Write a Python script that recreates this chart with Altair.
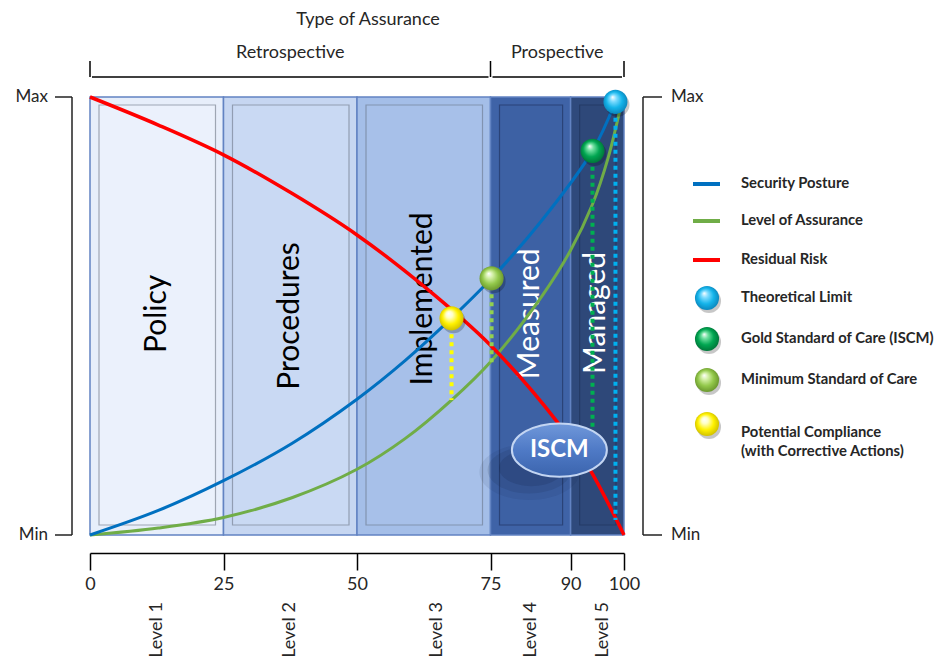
import altair as alt
import pandas as pd

# ---------------- data ----------------
band_start = [0, 25, 50, 75, 90]
band_end = [25, 50, 75, 90, 100]
band_names = ["Policy", "Procedures", "Implemented", "Measured", "Managed"]
band_label_x = [12.5, 37.5, 62.4, 82.4, 94.8]
band_label_y = [50.5, 50.0, 53.9, 50.5, 50.7]

level_names = ["Level 1", "Level 2", "Level 3", "Level 4", "Level 5"]
level_x = [12.5, 37.5, 65.0, 82.6, 96.0]

x_ticks = [0, 25, 50, 75, 90, 100]

posture_x = [0, 12.8, 25, 37.8, 50, 59, 67.7, 75.2, 84.6, 94.1, 98.3]
posture_y = [0, 5.6, 12.4, 20.9, 31.0, 39.8, 49.5, 58.6, 71.8, 87.7, 98.7]

assurance_x = [0, 12.8, 25, 37.8, 50, 59, 67.7, 75.2, 84.6, 90, 94.1, 97, 99.5]
assurance_y = [0, 1.6, 4.0, 8.5, 15.0, 22.0, 30.8, 39.8, 54.5, 65.0, 75.5, 86.0, 98.5]

risk_x = [0, 12.8, 25, 37.8, 50, 62.5, 75, 87.7, 93.3, 100]
risk_y = [100, 93.6, 86.8, 78.0, 68.5, 56.8, 43.3, 25.5, 15.6, 0]

marker_names = ["Potential Compliance", "Minimum Standard of Care",
                "Gold Standard of Care (ISCM)", "Theoretical Limit"]
marker_x = [67.7, 75.2, 94.1, 98.4]
marker_y = [49.5, 58.6, 87.7, 98.9]
marker_drop = [30.8, 39.3, 14.8, 3.4]

iscm_label = ["ISCM"]
iscm_x = [87.9]
iscm_y = [19.4]

assurance_title = "Type of Assurance"
assurance_types = ["Retrospective", "Prospective"]
assurance_start = [0, 75]
assurance_end = [75, 100]

scale_labels = ["Max", "Min"]
scale_values = [100, 0]

legend_line_labels = ["Security Posture", "Level of Assurance", "Residual Risk"]
legend_ball_labels = ["Theoretical Limit", "Gold Standard of Care (ISCM)",
                      "Minimum Standard of Care", "Potential Compliance"]

# ---------------- styles ----------------
FONT = "Lato"
TXT = "#262626"
W, H = 534, 438
band_fill = ["#e7eefa", "#c6d6f1", "#a4bee8", "#3f63a7", "#2f4a7c"]
band_inner_fill = ["#ebf1fc", "#c9d9f3", "#a7c0e9", "#3d61a4", "#2e4879"]
band_inner_stroke = ["#9ea6b3", "#919db2", "#8193b0", "#2a4378", "#243b66"]
band_text = ["#000000", "#000000", "#000000", "#ffffff", "#ffffff"]
line_colors = {"Security Posture": "#0070c0", "Level of Assurance": "#70ad47",
               "Residual Risk": "#ff0000"}
ball_base = {"Theoretical Limit": ("#7fdcff", "#14b4ea", "#0a7fb5"),
             "Gold Standard of Care (ISCM)": ("#6fe0a0", "#00a651", "#006e35"),
             "Minimum Standard of Care": ("#d4f0a8", "#92c84a", "#648f2a"),
             "Potential Compliance": ("#ffffc8", "#fff200", "#c9b800")}
drop_colors = {"Potential Compliance": "#ffff00", "Minimum Standard of Care": "#92d050",
               "Gold Standard of Care (ISCM)": "#00b050", "Theoretical Limit": "#00b0f0"}

xscale = alt.Scale(domain=[0, 100], nice=False, zero=False)
yscale = alt.Scale(domain=[0, 100], nice=False, zero=False)
xaxis = alt.Axis(values=x_ticks, offset=18, tickSize=17, tickWidth=1.5, domainWidth=1.5,
                 domainColor="#000", tickColor="#000", labelColor=TXT, labelFontSize=18,
                 labelFont=FONT, labelPadding=5, grid=False, title=None, labelFlush=False,
                 labelOverlap=False, format="d")


def X(f):
    return alt.X(f, type="quantitative", scale=xscale, axis=xaxis)


def Y(f):
    return alt.Y(f, type="quantitative", scale=yscale, axis=None)


def ball_fill(name):
    hi, mid, lo = ball_base[name]
    return {"gradient": "radial", "x1": 0.38, "y1": 0.3, "r1": 0.0,
            "x2": 0.5, "y2": 0.5, "r2": 0.55,
            "stops": [{"offset": 0.0, "color": "#ffffff"},
                      {"offset": 0.25, "color": hi},
                      {"offset": 0.6, "color": mid},
                      {"offset": 1.0, "color": lo}]}


bands = pd.DataFrame({"name": band_names, "x0": band_start, "x1": band_end,
                      "fill": band_fill, "ifill": band_inner_fill,
                      "istroke": band_inner_stroke, "tc": band_text,
                      "lx": band_label_x, "ly": band_label_y, "y0": 0, "y1": 100})

layers = []
layers.append(alt.Chart(bands).mark_rect(stroke="#6283c2", strokeWidth=1.5).encode(
    x=X("x0"), x2="x1", y=Y("y1"), y2="y0", fill=alt.Fill("fill:N", scale=None)))
layers.append(alt.Chart(bands).mark_rect(strokeWidth=1.2, xOffset=9, x2Offset=-8,
                                          yOffset=8, y2Offset=-10).encode(
    x=X("x0"), x2="x1", y=Y("y1"), y2="y0",
    fill=alt.Fill("ifill:N", scale=None), stroke=alt.Stroke("istroke:N", scale=None)))

# ISCM shadow (soft, under everything else)
iscm = pd.DataFrame({"label": iscm_label, "x": iscm_x, "y": iscm_y})
ELL = "M -1 0 A 1 0.56 0 1 1 1 0 A 1 0.56 0 1 1 -1 0 Z"
for sz, op, xo, yo in [(10000, 0.08, -30, 22), (7000, 0.12, -30, 20), (4200, 0.15, -28, 18)]:
    layers.append(alt.Chart(iscm).mark_point(shape=ELL, size=sz, filled=True, color="#0f1d3a",
                                             opacity=op, strokeWidth=0, xOffset=xo,
                                             yOffset=yo).encode(x=X("x"), y=Y("y")))

layers.append(alt.Chart(bands).mark_text(angle=270, fontSize=30, font=FONT,
                                          align="center", baseline="middle").encode(
    x=X("lx"), y=Y("ly"), text="name:N", color=alt.Color("tc:N", scale=None)))

# curves
for name, xs, ys, w in [("Level of Assurance", assurance_x, assurance_y, 3),
                        ("Security Posture", posture_x, posture_y, 3),
                        ("Residual Risk", risk_x, risk_y, 3.5)]:
    df = pd.DataFrame({"x": xs, "y": ys})
    layers.append(alt.Chart(df).mark_line(color=line_colors[name], strokeWidth=w,
                                          interpolate="catmull-rom").encode(x=X("x"), y=Y("y")))

markers = pd.DataFrame({"name": marker_names, "x": marker_x, "y": marker_y, "d": marker_drop})

# drop lines
for name in marker_names:
    layers.append(alt.Chart(markers).transform_filter(alt.datum.name == name).mark_rule(
        color=drop_colors[name], strokeWidth=4, strokeDash=[4, 4]).encode(
        x=X("x"), y=Y("y"), y2="d"))

# ISCM ellipse
layers.append(alt.Chart(iscm).mark_point(
    shape=ELL, size=9025, filled=True, opacity=1, stroke="#c3d5f2", strokeWidth=2,
    fill={"gradient": "linear", "x1": 0, "y1": 0, "x2": 0, "y2": 1,
          "stops": [{"offset": 0, "color": "#7098da"}, {"offset": 0.5, "color": "#4f7ac6"},
                    {"offset": 1, "color": "#3b64ad"}]}).encode(x=X("x"), y=Y("y")))
layers.append(alt.Chart(iscm).mark_text(fontSize=24, fontWeight="bold", font=FONT,
                                        color="#ffffff", baseline="middle").encode(
    x=X("x"), y=Y("y"), text="label:N"))

# balls
for name in marker_names:
    sub = alt.Chart(markers).transform_filter(alt.datum.name == name)
    layers.append(sub.mark_circle(size=580, color="#000", opacity=0.22, xOffset=2,
                                  yOffset=3).encode(x=X("x"), y=Y("y")))
    layers.append(sub.mark_circle(size=580, opacity=1, fill=ball_fill(name)).encode(
        x=X("x"), y=Y("y")))

# level labels below axis
levels = pd.DataFrame({"name": level_names, "x": level_x})
layers.append(alt.Chart(levels).mark_text(angle=270, fontSize=18, font=FONT, color=TXT,
                                          align="center", baseline="middle").encode(
    x=X("x"), y=alt.value(H + 95), text="name:N"))

# Type of assurance header
types = pd.DataFrame({"name": assurance_types, "x0": assurance_start, "x1": assurance_end})
types["mid"] = (types["x0"] + types["x1"]) / 2
layers.append(alt.Chart(types).mark_text(fontSize=18, font=FONT, color=TXT,
                                         baseline="middle").encode(
    x=X("mid"), y=alt.value(-44), text="name:N"))
layers.append(alt.Chart(types).mark_rule(color="#000", strokeWidth=1.5, xOffset=2,
                                         x2Offset=-2).encode(
    x=X("x0"), x2="x1", y=alt.value(-20)))
edges = pd.DataFrame({"x": sorted(set(assurance_start + assurance_end))})
layers.append(alt.Chart(edges).mark_rule(color="#000", strokeWidth=1.5).encode(
    x=X("x"), y=alt.value(-36), y2=alt.value(-20)))
title_df = pd.DataFrame({"t": [assurance_title], "x": [(assurance_start[0] + assurance_end[-1]) / 2]})
layers.append(alt.Chart(title_df).mark_text(fontSize=18, font=FONT, color=TXT,
                                            baseline="middle", dx=11).encode(
    x=X("x"), y=alt.value(-77), text="t:N"))

# Max / Min brackets
sc = pd.DataFrame({"label": scale_labels, "y": scale_values})
rng = pd.DataFrame({"y0": [0], "y1": [100]})
for bx, tx0, tx1, lx, al in [(-18, -35, -18, -42, "right"), (553, 553, 572, 581, "left")]:
    layers.append(alt.Chart(rng).mark_rule(color="#222", strokeWidth=1.5).encode(
        x=alt.value(bx), y=Y("y1"), y2="y0"))
    layers.append(alt.Chart(sc).mark_rule(color="#222", strokeWidth=1.5).encode(
        x=alt.value(tx0), x2=alt.value(tx1), y=Y("y")))
    layers.append(alt.Chart(sc).mark_text(fontSize=17, font=FONT, color=TXT, align=al,
                                          baseline="middle").encode(
        x=alt.value(lx), y=Y("y"), text="label:N"))

# legend (manual)
one = pd.DataFrame({"k": [0]})
leg_rows_line = [87, 124, 163]
leg_rows_ball = [201, 242, 283, 327]
LEG_FS = 14.8
for lab, yy in zip(legend_line_labels, leg_rows_line):
    layers.append(alt.Chart(one).mark_rule(color=line_colors[lab], strokeWidth=4).encode(
        x=alt.value(603), x2=alt.value(630), y=alt.value(yy)))
    layers.append(alt.Chart(one).mark_text(fontSize=LEG_FS, fontWeight="bold", font=FONT,
                                           color=TXT, align="left", baseline="middle").encode(
        x=alt.value(651), y=alt.value(yy), text=alt.value(lab)))
for lab, yy in zip(legend_ball_labels, leg_rows_ball):
    layers.append(alt.Chart(one).mark_circle(size=580, color="#000", opacity=0.22).encode(
        x=alt.value(619), y=alt.value(yy + 3)))
    layers.append(alt.Chart(one).mark_circle(size=580, opacity=1, fill=ball_fill(lab)).encode(
        x=alt.value(617), y=alt.value(yy)))
    txt = lab if lab != "Potential Compliance" else ["Potential Compliance",
                                                      "(with Corrective Actions)"]
    layers.append(alt.Chart(one).mark_text(fontSize=LEG_FS, fontWeight="bold", font=FONT,
                                           color=TXT, align="left", baseline="middle",
                                           lineHeight=19, dy=(9 if isinstance(txt, list) else 0)).encode(
        x=alt.value(651), y=alt.value(yy), text=alt.value(txt)))

chart = alt.layer(*layers).properties(
    width=W, height=H,
    autosize=alt.AutoSizeParams(type="none"),
    padding={"left": 82, "top": 89, "right": 316, "bottom": 126},
    background="#ffffff",
).configure_view(stroke=None).configure_axis(grid=False)

chart.save("out.html", embed_options={"renderer": "svg", "actions": False})
